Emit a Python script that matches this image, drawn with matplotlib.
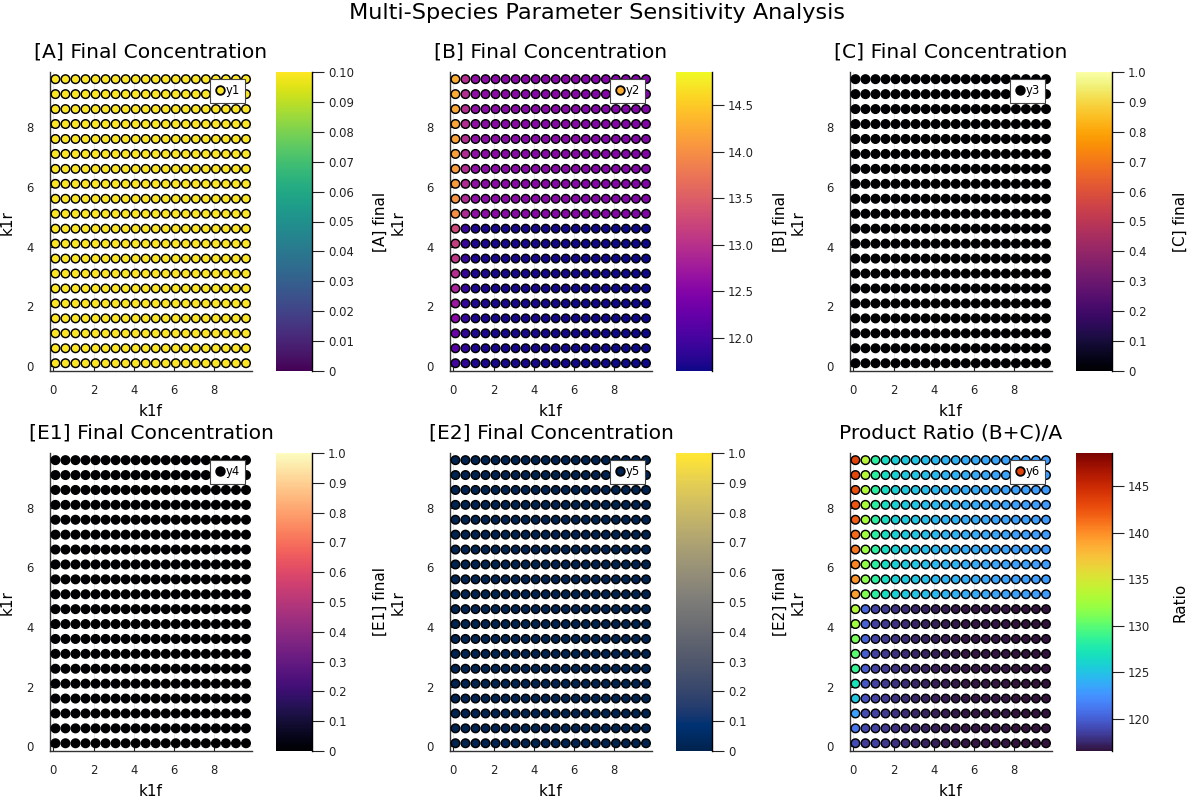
import numpy as np
import matplotlib
matplotlib.use("Agg")
import matplotlib.pyplot as plt
from matplotlib.lines import Line2D
from matplotlib.colors import Normalize

plt.rcParams['font.family'] = ['DejaVu Sans']

# ---------------- data ----------------
k1f_values = [0.1, 0.6, 1.1, 1.6, 2.1, 2.6, 3.1, 3.6, 4.1, 4.6,
              5.1, 5.6, 6.1, 6.6, 7.1, 7.6, 8.1, 8.6, 9.1, 9.6]
k1r_values = [0.1, 0.6, 1.1, 1.6, 2.1, 2.6, 3.1, 3.6, 4.1, 4.6,
              5.1, 5.6, 6.1, 6.6, 7.1, 7.6, 8.1, 8.6, 9.1, 9.6]
split_k1r = 5.0   # rows above this belong to the "upper" regime

# [A] final: uniform
A_value = 0.1
# [C], [E1], [E2] final: uniform
C_value = 0.0
E1_value = 0.0
E2_value = 0.0

# [B] final
B_first_col = [11.96, 12.12, 12.28, 12.54, 12.70, 12.83, 12.96, 13.06, 13.15, 13.25,
               14.00, 14.05, 14.10, 14.12, 14.15, 14.18, 14.20, 14.22, 14.25, 14.28]
B_second_col = [11.82, 11.83, 11.84, 11.85, 11.85, 11.86, 11.86, 11.87, 11.87, 11.88,
                12.90, 12.90, 12.91, 12.92, 12.92, 12.93, 12.93, 12.94, 12.94, 12.95]
B_upper_rest = [12.60, 12.56, 12.55, 12.54, 12.54, 12.53, 12.53, 12.52, 12.52, 12.51,
                12.51, 12.50, 12.50, 12.50, 12.49, 12.49, 12.48, 12.48]
B_lower_rest = [11.72, 11.70, 11.69, 11.69, 11.68, 11.68, 11.68, 11.67, 11.67, 11.67,
                11.66, 11.66, 11.66, 11.66, 11.65, 11.65, 11.65, 11.65]

# Product ratio (B+C)/A
R_first_col = [119.1, 121.0, 123.3, 125.2, 127.1, 128.7, 130.0, 131.0, 132.5, 133.2,
               139.2, 139.8, 140.4, 141.0, 141.5, 142.0, 142.4, 142.8, 143.1, 143.4]
R_second_col = [118.4, 118.7, 119.0, 119.3, 119.5, 119.7, 119.9, 120.0, 120.1, 120.2,
                131.3, 131.6, 131.9, 132.2, 132.5, 132.8, 133.0, 133.2, 133.4, 133.6]
R_upper_rest = [128.3, 126.6, 125.8, 125.4, 125.1, 124.8, 124.5, 124.3, 124.1, 123.9,
                123.8, 123.6, 123.5, 123.4, 123.3, 123.2, 123.1, 123.0]
R_lower_rest = [118.6, 118.2, 117.9, 117.6, 117.4, 117.2, 117.1, 117.0, 116.9, 116.8,
                116.8, 116.7, 116.7, 116.7, 116.6, 116.6, 116.6, 116.6]

titles = ["[A] Final Concentration", "[B] Final Concentration", "[C] Final Concentration",
          "[E1] Final Concentration", "[E2] Final Concentration", "Product Ratio (B+C)/A"]
cbar_labels = ["[A] final", "[B] final", "[C] final", "[E1] final", "[E2] final", "Ratio"]
series_labels = ["y1", "y2", "y3", "y4", "y5", "y6"]
cmaps = ["viridis", "plasma", "inferno", "magma", "cividis", "turbo"]
clims = [(0.0, 0.1), (11.64, 14.86), (0.0, 1.0), (0.0, 1.0), (0.0, 1.0), (116.55, 148.56)]
cbar_ticks = [
    [0, 0.01, 0.02, 0.03, 0.04, 0.05, 0.06, 0.07, 0.08, 0.09, 0.10],
    [12.0, 12.5, 13.0, 13.5, 14.0, 14.5],
    [0, 0.1, 0.2, 0.3, 0.4, 0.5, 0.6, 0.7, 0.8, 0.9, 1.0],
    [0, 0.1, 0.2, 0.3, 0.4, 0.5, 0.6, 0.7, 0.8, 0.9, 1.0],
    [0, 0.1, 0.2, 0.3, 0.4, 0.5, 0.6, 0.7, 0.8, 0.9, 1.0],
    [120, 125, 130, 135, 140, 145],
]
cbar_ticklabels = [
    ["0", "0.01", "0.02", "0.03", "0.04", "0.05", "0.06", "0.07", "0.08", "0.09", "0.10"],
    ["12.0", "12.5", "13.0", "13.5", "14.0", "14.5"],
    ["0", "0.1", "0.2", "0.3", "0.4", "0.5", "0.6", "0.7", "0.8", "0.9", "1.0"],
    ["0", "0.1", "0.2", "0.3", "0.4", "0.5", "0.6", "0.7", "0.8", "0.9", "1.0"],
    ["0", "0.1", "0.2", "0.3", "0.4", "0.5", "0.6", "0.7", "0.8", "0.9", "1.0"],
    ["120", "125", "130", "135", "140", "145"],
]
axis_ticks = [0, 2, 4, 6, 8]


# ---------------- assemble grids ----------------
def build_grid(first_col, second_col, upper_rest, lower_rest):
    ny, nx = len(k1r_values), len(k1f_values)
    g = np.zeros((ny, nx))
    for i, yv in enumerate(k1r_values):
        g[i, 0] = first_col[i]
        g[i, 1] = second_col[i]
        rest = upper_rest if yv > split_k1r else lower_rest
        g[i, 2:] = rest
    return g


def const_grid(v):
    return np.full((len(k1r_values), len(k1f_values)), v)


grids = [
    const_grid(A_value),
    build_grid(B_first_col, B_second_col, B_upper_rest, B_lower_rest),
    const_grid(C_value),
    const_grid(E1_value),
    const_grid(E2_value),
    build_grid(R_first_col, R_second_col, R_upper_rest, R_lower_rest),
]

X, Y = np.meshgrid(k1f_values, k1r_values)

# ---------------- figure ----------------
W, H = 1200, 800
fig = plt.figure(figsize=(12, 8), dpi=100)


def rect(x0, y0, x1, y1):
    # pixel box (top-left origin) -> figure fraction rect
    return [x0 / W, 1 - y1 / H, (x1 - x0) / W, (y1 - y0) / H]


row_y = [(72, 371), (453, 751)]
col_x = [0, 400, 800]

fig.text(597 / W, 1 - 13 / H, "Multi-Species Parameter Sensitivity Analysis",
         ha='center', va='center', fontsize=16.1)

for idx in range(6):
    r, c = divmod(idx, 3)
    y0, y1 = row_y[r]
    ox = col_x[c]
    ax = fig.add_axes(rect(ox + 50, y0, ox + 252, y1))
    cax = fig.add_axes(rect(ox + 276, y0, ox + 312, y1))

    vmin, vmax = clims[idx]
    norm = Normalize(vmin=vmin, vmax=vmax)
    g = grids[idx]
    sc = ax.scatter(X.ravel(), Y.ravel(), c=g.ravel(), cmap=cmaps[idx], norm=norm,
                    s=38, edgecolors='black', linewidths=1.05, zorder=3)

    ax.set_xlim(-0.17, 9.9)
    ax.set_ylim(-0.16, 9.84)
    ax.set_xticks(axis_ticks)
    ax.set_yticks(axis_ticks)
    ax.tick_params(direction='in', length=3, width=0.8, labelsize=8.4,
                   colors='#222222')
    ax.tick_params(axis='x', pad=9)
    ax.tick_params(axis='y', pad=12)
    ax.grid(True, color='black', alpha=0.1, linewidth=0.6, zorder=0)
    ax.set_axisbelow(True)
    for s in ['top', 'right']:
        ax.spines[s].set_visible(False)
    for s in ['left', 'bottom']:
        ax.spines[s].set_color('#333333')
        ax.spines[s].set_linewidth(1.0)

    # legend
    lc = plt.get_cmap(cmaps[idx])(norm(g[-1, 0]))
    h = Line2D([], [], marker='o', ls='none', markerfacecolor=lc,
               markeredgecolor='black', markersize=6.2, markeredgewidth=1.3)
    leg = ax.legend([h], [series_labels[idx]], loc='upper right', fontsize=8.4,
                    fancybox=False, framealpha=1.0, edgecolor='#444444',
                    handlelength=0.8, handletextpad=0.1, borderpad=0.45,
                    borderaxespad=0.6)
    leg.get_frame().set_linewidth(0.8)
    leg.set_zorder(10)

    # title & labels
    cx = ox + 151
    fig.text(cx / W, 1 - (y0 - 20) / H, titles[idx], ha='center', va='center',
             fontsize=14.6)
    fig.text(cx / W, 1 - (y1 + 40) / H, "k1f", ha='center', va='center', fontsize=11)
    lx = ox - 2 if c > 0 else 7
    fig.text(lx / W, 1 - ((y0 + y1) / 2 + 1) / H, "k1r", ha='center', va='center',
             rotation=90, fontsize=11)

    # colorbar
    cb = fig.colorbar(sc, cax=cax)
    cb.outline.set_visible(False)
    cax.plot([1, 1], [0, 1], transform=cax.transAxes, color='black', lw=1.0,
             clip_on=False, zorder=5)
    cb.set_ticks(cbar_ticks[idx])
    cb.set_ticklabels(cbar_ticklabels[idx])
    cax.tick_params(axis='y', direction='out', length=8.5, width=0.8,
                    labelsize=8.4, pad=3, colors='#222222')
    cax.tick_params(axis='y', which='minor', length=0)
    fig.text((ox + 380) / W, 1 - ((y0 + y1) / 2) / H, cbar_labels[idx],
             ha='center', va='center', rotation=90, fontsize=11)

fig.savefig("out.png", dpi=100)
